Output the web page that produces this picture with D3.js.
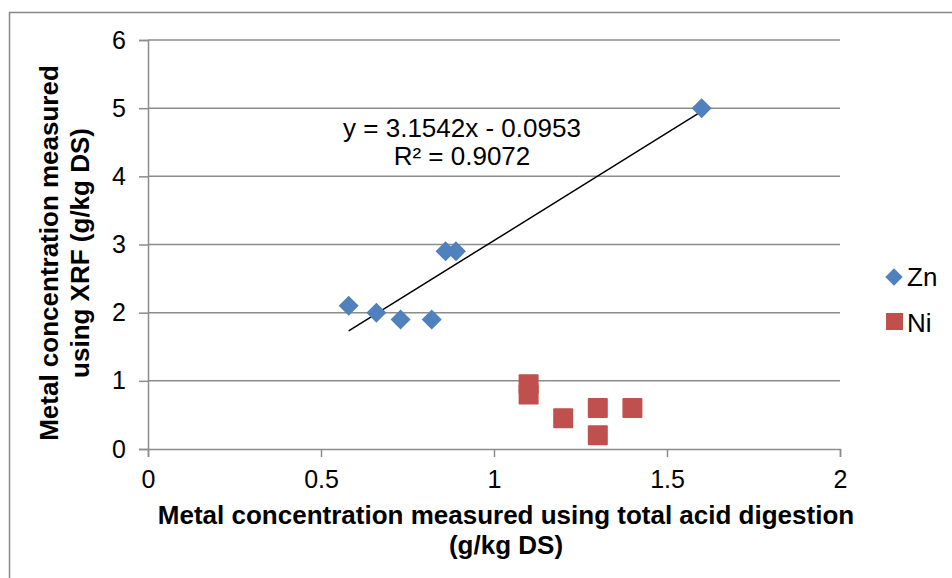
<!DOCTYPE html>
<html>
<head>
<meta charset="utf-8">
<script src="https://cdn.jsdelivr.net/npm/d3@7"></script>
<style>
  html, body { margin: 0; padding: 0; background: #fff; }
  svg { display: block; font-family: "Liberation Sans", Arial, sans-serif; }
</style>
</head>
<body>
<svg id="chart" width="952" height="578"></svg>
<script>
// Total acid digestion (x) vs XRF (y), g/kg DS
const znX = [0.58, 0.66, 0.73, 0.82, 0.86, 0.89, 1.6];
const znY = [2.1, 2.0, 1.9, 1.9, 2.9, 2.9, 5.0];
const niX = [1.1, 1.1, 1.2, 1.3, 1.3, 1.4];
const niY = [0.95, 0.8, 0.45, 0.6, 0.2, 0.6];
const xTicks = [0, 0.5, 1, 1.5, 2];
const yTicks = [0, 1, 2, 3, 4, 5, 6];
const seriesNames = ["Zn", "Ni"];
// Linear trendline fitted to Zn
const slope = 3.1542, intercept = -0.0953, r2 = 0.9072;

const svg = d3.select("#chart");
const W = 952, H = 578;
const m = { left: 148, right: 840, top: 40, bottom: 449 };
const fontFam = "'Liberation Sans', Arial, sans-serif";

// chart area frame
svg.append("rect").attr("x", 9.5).attr("y", 12.5)
  .attr("width", W).attr("height", H)
  .attr("fill", "none").attr("stroke", "#888").attr("stroke-width", 1.5);

const x = d3.scaleLinear().domain([0, 2]).range([m.left, m.right]);
const y = d3.scaleLinear().domain([0, 6]).range([m.bottom, m.top]);

// horizontal gridlines
svg.append("g").selectAll("line").data(yTicks.filter(d => d > 0)).join("line")
  .attr("x1", m.left).attr("x2", m.right)
  .attr("y1", d => y(d)).attr("y2", d => y(d))
  .attr("stroke", "#8c8c8c").attr("stroke-width", 1.5);

// y axis
const gy = svg.append("g").attr("transform", `translate(${m.left},0)`)
  .call(d3.axisLeft(y).tickValues(yTicks).tickFormat(d3.format("d")).tickSize(9).tickPadding(13));
// x axis
const gx = svg.append("g").attr("transform", `translate(0,${m.bottom})`)
  .call(d3.axisBottom(x).tickValues(xTicks).tickFormat(d => String(d)).tickSize(8).tickPadding(13));

[gx, gy].forEach(g => {
  g.select(".domain").attr("stroke", "#8c8c8c").attr("stroke-width", 1.5);
  g.selectAll(".tick line").attr("stroke", "#8c8c8c").attr("stroke-width", 1.5);
  g.selectAll(".tick text").attr("fill", "#000").style("font-size", "25px")
    .style("font-family", fontFam);
});

// trendline over the Zn x range
const xMin = d3.min(znX), xMax = d3.max(znX);
svg.append("line")
  .attr("x1", x(xMin)).attr("y1", y(slope * xMin + intercept))
  .attr("x2", x(xMax)).attr("y2", y(slope * xMax + intercept))
  .attr("stroke", "#000").attr("stroke-width", 1.5);

// Zn diamonds
const diamond = d3.symbol().type(d3.symbolSquare).size(200);
svg.append("g").selectAll("path").data(znX.map((d, i) => [d, znY[i]])).join("path")
  .attr("d", diamond)
  .attr("transform", d => `translate(${x(d[0])},${y(d[1])}) rotate(45)`)
  .attr("fill", "#4F81BD");

// Ni squares
const sq = 20;
svg.append("g").selectAll("rect").data(niX.map((d, i) => [d, niY[i]])).join("rect")
  .attr("x", d => x(d[0]) - sq / 2).attr("y", d => y(d[1]) - sq / 2)
  .attr("width", sq).attr("height", sq).attr("rx", 1)
  .attr("fill", "#C0504D");

// trendline equation
const eq = svg.append("text").attr("text-anchor", "middle").style("font-size", "26px").attr("fill", "#000");
eq.append("tspan").attr("x", 462).attr("y", 137)
  .text(`y = ${slope}x - ${Math.abs(intercept)}`);
eq.append("tspan").attr("x", 462).attr("y", 165)
  .text(`R² = ${r2}`);

// axis titles
const xt = svg.append("text").attr("text-anchor", "middle")
  .style("font-size", "26px").style("font-weight", "bold").attr("fill", "#000");
xt.append("tspan").attr("x", 506).attr("y", 524).text("Metal concentration measured using total acid digestion");
xt.append("tspan").attr("x", 506).attr("y", 554).text("(g/kg DS)");

const yt = svg.append("text").attr("text-anchor", "middle")
  .attr("transform", "translate(0,253) rotate(-90)")
  .style("font-size", "26px").style("font-weight", "bold").attr("fill", "#000");
yt.append("tspan").attr("x", 0).attr("y", 58).text("Metal concentration measured");
yt.append("tspan").attr("x", 0).attr("y", 89).text("using XRF (g/kg DS)");

// legend
const lg = svg.append("g");
lg.append("path").attr("d", d3.symbol().type(d3.symbolSquare).size(150))
  .attr("transform", "translate(894,277) rotate(45)").attr("fill", "#4F81BD");
lg.append("rect").attr("x", 886).attr("y", 313).attr("width", 17).attr("height", 17).attr("fill", "#C0504D");
lg.selectAll("text").data(seriesNames).join("text")
  .attr("x", 907).attr("y", (d, i) => 286 + i * 46)
  .style("font-size", "26px").attr("fill", "#000").text(d => d);
</script>
</body>
</html>
